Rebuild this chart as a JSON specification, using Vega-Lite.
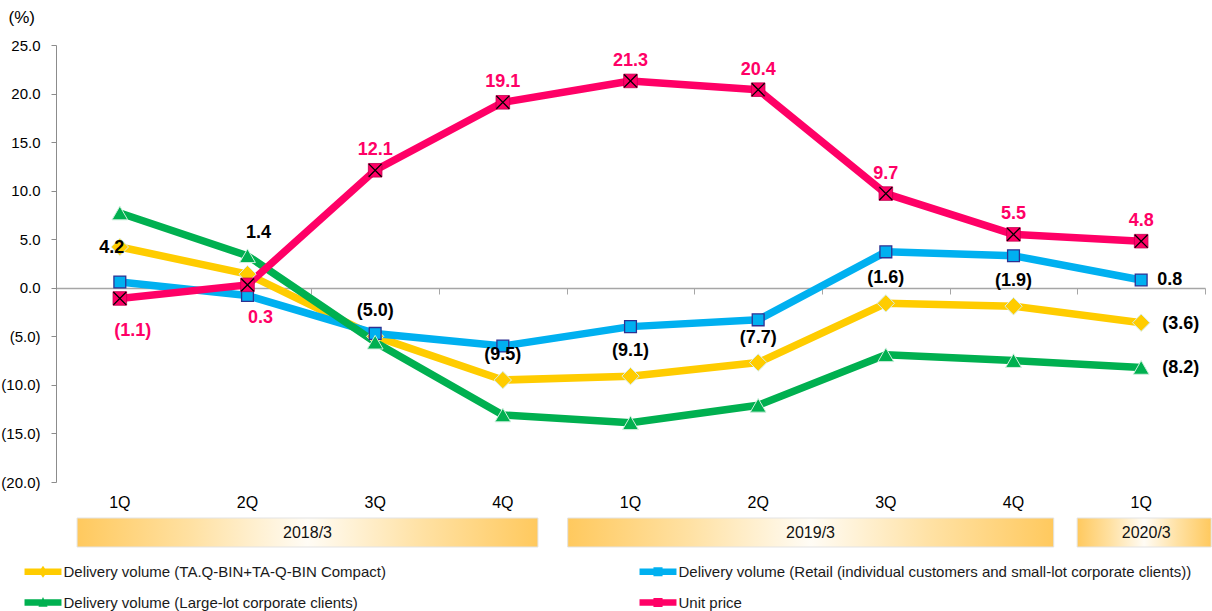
{
  "$schema": "https://vega.github.io/schema/vega-lite/v6.json",
  "padding": {"left": 0, "top": 8, "right": 0, "bottom": 0},
  "config": {
    "view": {"stroke": null},
    "font": "Liberation Sans",
    "text": {"font": "Liberation Sans"}
  },
  "datasets": {
    "rates": [
      {"q": "2018/3 1Q", "s": "Delivery volume (TA.Q-BIN+TA-Q-BIN Compact)", "v": 4.2},
      {"q": "2018/3 2Q", "s": "Delivery volume (TA.Q-BIN+TA-Q-BIN Compact)", "v": 1.4},
      {"q": "2018/3 3Q", "s": "Delivery volume (TA.Q-BIN+TA-Q-BIN Compact)", "v": -5.0},
      {"q": "2018/3 4Q", "s": "Delivery volume (TA.Q-BIN+TA-Q-BIN Compact)", "v": -9.5},
      {"q": "2019/3 1Q", "s": "Delivery volume (TA.Q-BIN+TA-Q-BIN Compact)", "v": -9.1},
      {"q": "2019/3 2Q", "s": "Delivery volume (TA.Q-BIN+TA-Q-BIN Compact)", "v": -7.7},
      {"q": "2019/3 3Q", "s": "Delivery volume (TA.Q-BIN+TA-Q-BIN Compact)", "v": -1.6},
      {"q": "2019/3 4Q", "s": "Delivery volume (TA.Q-BIN+TA-Q-BIN Compact)", "v": -1.9},
      {"q": "2020/3 1Q", "s": "Delivery volume (TA.Q-BIN+TA-Q-BIN Compact)", "v": -3.6},
      {"q": "2018/3 1Q", "s": "Delivery volume (Retail (individual customers and small-lot corporate clients))", "v": 0.6},
      {"q": "2018/3 2Q", "s": "Delivery volume (Retail (individual customers and small-lot corporate clients))", "v": -0.8},
      {"q": "2018/3 3Q", "s": "Delivery volume (Retail (individual customers and small-lot corporate clients))", "v": -4.7},
      {"q": "2018/3 4Q", "s": "Delivery volume (Retail (individual customers and small-lot corporate clients))", "v": -6.0},
      {"q": "2019/3 1Q", "s": "Delivery volume (Retail (individual customers and small-lot corporate clients))", "v": -4.0},
      {"q": "2019/3 2Q", "s": "Delivery volume (Retail (individual customers and small-lot corporate clients))", "v": -3.3},
      {"q": "2019/3 3Q", "s": "Delivery volume (Retail (individual customers and small-lot corporate clients))", "v": 3.7},
      {"q": "2019/3 4Q", "s": "Delivery volume (Retail (individual customers and small-lot corporate clients))", "v": 3.3},
      {"q": "2020/3 1Q", "s": "Delivery volume (Retail (individual customers and small-lot corporate clients))", "v": 0.8},
      {"q": "2018/3 1Q", "s": "Delivery volume (Large-lot corporate clients)", "v": 7.7},
      {"q": "2018/3 2Q", "s": "Delivery volume (Large-lot corporate clients)", "v": 3.3},
      {"q": "2018/3 3Q", "s": "Delivery volume (Large-lot corporate clients)", "v": -5.6},
      {"q": "2018/3 4Q", "s": "Delivery volume (Large-lot corporate clients)", "v": -13.1},
      {"q": "2019/3 1Q", "s": "Delivery volume (Large-lot corporate clients)", "v": -13.9},
      {"q": "2019/3 2Q", "s": "Delivery volume (Large-lot corporate clients)", "v": -12.1},
      {"q": "2019/3 3Q", "s": "Delivery volume (Large-lot corporate clients)", "v": -6.9},
      {"q": "2019/3 4Q", "s": "Delivery volume (Large-lot corporate clients)", "v": -7.5},
      {"q": "2020/3 1Q", "s": "Delivery volume (Large-lot corporate clients)", "v": -8.2},
      {"q": "2018/3 1Q", "s": "Unit price", "v": -1.1},
      {"q": "2018/3 2Q", "s": "Unit price", "v": 0.3},
      {"q": "2018/3 3Q", "s": "Unit price", "v": 12.1},
      {"q": "2018/3 4Q", "s": "Unit price", "v": 19.1},
      {"q": "2019/3 1Q", "s": "Unit price", "v": 21.3},
      {"q": "2019/3 2Q", "s": "Unit price", "v": 20.4},
      {"q": "2019/3 3Q", "s": "Unit price", "v": 9.7},
      {"q": "2019/3 4Q", "s": "Unit price", "v": 5.5},
      {"q": "2020/3 1Q", "s": "Unit price", "v": 4.8}
    ],
    "years": [
      {"fy": "2018/3", "start": "2018/3 1Q", "end": "2018/3 4Q"},
      {"fy": "2019/3", "start": "2019/3 1Q", "end": "2019/3 4Q"},
      {"fy": "2020/3", "start": "2020/3 1Q", "end": "2020/3 1Q"}
    ]
  },
  "bounds": "flush",
  "spacing": 36,
  "vconcat": [
    {
      "width": 1149,
      "height": 437,
      "data": {"name": "rates"},
      "transform": [
        {"calculate": "datum.v < 0 ? '(' + format(-datum.v, '.1f') + ')' : format(datum.v, '.1f')", "as": "lbl"}
      ],
      "encoding": {
        "x": {"field": "q", "type": "nominal", "axis": null,
          "scale": {"type": "band", "paddingInner": 0, "paddingOuter": 0,
            "domain": ["2018/3 1Q", "2018/3 2Q", "2018/3 3Q", "2018/3 4Q", "2019/3 1Q", "2019/3 2Q", "2019/3 3Q", "2019/3 4Q", "2020/3 1Q"]}},
        "y": {"field": "v", "type": "quantitative",
          "scale": {"domain": [-20, 25], "nice": false, "zero": false},
          "axis": {"title": "(%)", "titleAngle": 0, "titleAlign": "left", "titleBaseline": "middle", "titleX": -48, "titleY": -28, "titleFontSize": 17, "titleFontWeight": "normal", "titleColor": "#000000",
            "values": [-20, -15, -10, -5, 0, 5, 10, 15, 20, 25],
            "labelExpr": "datum.value < 0 ? '(' + format(-datum.value, '.1f') + ')' : format(datum.value, '.1f')",
            "labelFontSize": 15, "labelColor": "#000000", "labelPadding": 11, "tickSize": 5, "tickColor": "#8C8C8C", "domainColor": "#8C8C8C", "grid": false}}
      },
      "layer": [
        {
          "mark": {"type": "point", "filled": true, "opacity": 0},
          "encoding": {
            "x": {"field": "q", "type": "nominal",
              "scale": {"type": "band", "paddingInner": 0, "paddingOuter": 0,
                "domain": ["2018/3 1Q", "2018/3 2Q", "2018/3 3Q", "2018/3 4Q", "2019/3 1Q", "2019/3 2Q", "2019/3 3Q", "2019/3 4Q", "2020/3 1Q"]},
              "axis": {"orient": "top", "offset": -243, "labels": false, "title": null, "domainColor": "#A6A6A6", "domainWidth": 1.5, "tickColor": "#A6A6A6", "tickSize": -6, "tickBand": "extent", "grid": false}},
            "color": {"field": "s", "type": "nominal",
              "scale": {"domain": ["Delivery volume (TA.Q-BIN+TA-Q-BIN Compact)", "Delivery volume (Large-lot corporate clients)", "Delivery volume (Retail (individual customers and small-lot corporate clients))", "Unit price"],
                "range": ["#FFCC00", "#00B050", "#00B0F0", "#FF0066"]},
              "legend": {"title": null, "orient": "none", "legendX": -20.5, "legendY": 519, "columns": 2, "columnPadding": 253, "rowPadding": 15, "labelFontSize": 15, "labelColor": "#1A1A1A", "symbolSize": 196, "labelOffset": 13, "symbolOpacity": 1, "symbolStrokeWidth": 0, "labelLimit": 700}},
            "shape": {"field": "s", "type": "nominal",
              "scale": {"domain": ["Delivery volume (TA.Q-BIN+TA-Q-BIN Compact)", "Delivery volume (Large-lot corporate clients)", "Delivery volume (Retail (individual customers and small-lot corporate clients))", "Unit price"],
                "range": ["M-2.64,-0.46H2.64V0.46H-2.64Z M0,-0.85L0.6,0L0,0.85L-0.6,0Z", "M-2.64,-0.46H2.64V0.46H-2.64Z M0,-0.8L0.65,0.6H-0.65Z", "M-2.64,-0.46H2.64V0.46H-2.64Z M-0.65,-0.65H0.65V0.65H-0.65Z", "M-2.64,-0.46H2.64V0.46H-2.64Z M-0.65,-0.65H0.65V0.65H-0.65Z"]},
              "legend": {"title": null, "orient": "none", "legendX": -20.5, "legendY": 519, "columns": 2, "columnPadding": 253, "rowPadding": 15, "labelFontSize": 15, "labelColor": "#1A1A1A", "symbolSize": 196, "labelOffset": 13, "symbolOpacity": 1, "symbolStrokeWidth": 0, "labelLimit": 700}}
          }
        },
        {
          "mark": {"type": "line", "strokeWidth": 7.5, "strokeJoin": "round"},
          "encoding": {
            "x": {"field": "q", "type": "nominal",
              "scale": {"type": "band", "paddingInner": 0, "paddingOuter": 0,
                "domain": ["2018/3 1Q", "2018/3 2Q", "2018/3 3Q", "2018/3 4Q", "2019/3 1Q", "2019/3 2Q", "2019/3 3Q", "2019/3 4Q", "2020/3 1Q"]},
              "axis": {"orient": "bottom", "title": null, "domain": false, "ticks": false, "labelAngle": 0, "labelFontSize": 16, "labelColor": "#000000", "labelPadding": 12, "labelExpr": "split(datum.value, ' ')[1]", "grid": false}},
            "stroke": {"field": "s", "type": "nominal", "legend": null,
              "scale": {"domain": ["Delivery volume (TA.Q-BIN+TA-Q-BIN Compact)", "Delivery volume (Retail (individual customers and small-lot corporate clients))", "Delivery volume (Large-lot corporate clients)", "Unit price"],
                "range": ["#FFCC00", "#00B0F0", "#00B050", "#FF0066"]}}
          }
        },
        {
          "transform": [{"filter": "datum.s == 'Delivery volume (TA.Q-BIN+TA-Q-BIN Compact)'"}],
          "mark": {"type": "point", "shape": "diamond", "filled": true, "opacity": 1, "fill": "#FFCC00", "stroke": "#D5EFEF", "strokeWidth": 1, "size": 300}
        },
        {
          "transform": [{"filter": "datum.s == 'Delivery volume (Retail (individual customers and small-lot corporate clients))'"}],
          "mark": {"type": "point", "shape": "square", "filled": true, "opacity": 1, "fill": "#00B0F0", "stroke": "#2E3192", "strokeWidth": 1.3, "size": 140}
        },
        {
          "transform": [{"filter": "datum.s == 'Delivery volume (Large-lot corporate clients)'"}],
          "mark": {"type": "point", "shape": "triangle-up", "filled": true, "opacity": 1, "fill": "#00B050", "stroke": "#CFEFDD", "strokeWidth": 1, "size": 250}
        },
        {
          "transform": [{"filter": "datum.s == 'Unit price'"}],
          "mark": {"type": "point", "shape": "square", "filled": true, "opacity": 1, "fill": "#FF0066", "stroke": "#C0004E", "strokeWidth": 0.8, "size": 185}
        },
        {
          "transform": [{"filter": "datum.s == 'Unit price'"}],
          "mark": {"type": "point", "shape": "M-1,-1L1,1M-1,1L1,-1", "filled": false, "opacity": 1, "stroke": "#000000", "strokeWidth": 1.3, "size": 165}
        },
        {
          "transform": [{"filter": "datum.s == 'Delivery volume (TA.Q-BIN+TA-Q-BIN Compact)' && datum.q == '2018/3 1Q'"}],
          "mark": {"type": "text", "fontSize": 18, "fontWeight": "bold", "color": "#000000", "dx": -8, "dy": 1},
          "encoding": {"text": {"field": "lbl"}}
        },
        {
          "transform": [{"filter": "datum.s == 'Delivery volume (TA.Q-BIN+TA-Q-BIN Compact)' && datum.q == '2018/3 2Q'"}],
          "mark": {"type": "text", "fontSize": 18, "fontWeight": "bold", "color": "#000000", "dx": 11, "dy": -41},
          "encoding": {"text": {"field": "lbl"}}
        },
        {
          "transform": [{"filter": "datum.s == 'Delivery volume (TA.Q-BIN+TA-Q-BIN Compact)' && datum.q != '2018/3 1Q' && datum.q != '2018/3 2Q' && datum.q != '2020/3 1Q'"}],
          "mark": {"type": "text", "fontSize": 18, "fontWeight": "bold", "color": "#000000", "dy": -25},
          "encoding": {"text": {"field": "lbl"}}
        },
        {
          "transform": [{"filter": "datum.q == '2020/3 1Q' && (datum.s == 'Delivery volume (TA.Q-BIN+TA-Q-BIN Compact)' || datum.s == 'Delivery volume (Large-lot corporate clients)')"}],
          "mark": {"type": "text", "fontSize": 18, "fontWeight": "bold", "color": "#000000", "align": "left", "dx": 21, "dy": 1},
          "encoding": {"text": {"field": "lbl"}}
        },
        {
          "transform": [{"filter": "datum.q == '2020/3 1Q' && datum.s == 'Delivery volume (Retail (individual customers and small-lot corporate clients))'"}],
          "mark": {"type": "text", "fontSize": 18, "fontWeight": "bold", "color": "#000000", "align": "left", "dx": 16},
          "encoding": {"text": {"field": "lbl"}}
        },
        {
          "transform": [{"filter": "datum.s == 'Unit price' && (datum.q == '2018/3 1Q' || datum.q == '2018/3 2Q')"}],
          "mark": {"type": "text", "fontSize": 18, "fontWeight": "bold", "color": "#FF0066", "dx": 13, "dy": 33},
          "encoding": {"text": {"field": "lbl"}}
        },
        {
          "transform": [{"filter": "datum.s == 'Unit price' && datum.q != '2018/3 1Q' && datum.q != '2018/3 2Q'"}],
          "mark": {"type": "text", "fontSize": 18, "fontWeight": "bold", "color": "#FF0066", "dy": -20},
          "encoding": {"text": {"field": "lbl"}}
        }
      ],
      "resolve": {"axis": {"x": "independent"}}
    },
    {
      "width": 1149,
      "height": 29,
      "data": {"name": "years"},
      "encoding": {
        "x": {"field": "start", "type": "nominal", "axis": null,
          "scale": {"type": "band", "paddingInner": 0, "paddingOuter": 0,
            "domain": ["2018/3 1Q", "2018/3 2Q", "2018/3 3Q", "2018/3 4Q", "2019/3 1Q", "2019/3 2Q", "2019/3 3Q", "2019/3 4Q", "2020/3 1Q"]}}
      },
      "layer": [
        {
          "transform": [{"filter": "datum.fy == '2018/3'"}],
          "mark": {"type": "rect", "stroke": "#E3E3E3", "strokeWidth": 1,
            "fill": {"gradient": "linear", "x1": 0, "y1": 0, "x2": 1, "y2": 0,
              "stops": [{"offset": 0, "color": "#FFC95E"}, {"offset": 0.25, "color": "#FFE1A3"}, {"offset": 0.5, "color": "#FFFCF5"}, {"offset": 0.75, "color": "#FFE1A3"}, {"offset": 1, "color": "#FFC95E"}]}},
          "encoding": {
            "x": {"field": "start", "type": "nominal", "bandPosition": 0.165},
            "x2": {"field": "end", "bandPosition": 0.775}
          }
        },
        {
          "transform": [{"filter": "datum.fy == '2019/3'"}],
          "mark": {"type": "rect", "stroke": "#E3E3E3", "strokeWidth": 1,
            "fill": {"gradient": "linear", "x1": 0, "y1": 0, "x2": 1, "y2": 0,
              "stops": [{"offset": 0, "color": "#FFC95E"}, {"offset": 0.25, "color": "#FFE1A3"}, {"offset": 0.5, "color": "#FFFCF5"}, {"offset": 0.75, "color": "#FFE1A3"}, {"offset": 1, "color": "#FFC95E"}]}},
          "encoding": {
            "x": {"field": "start", "type": "nominal", "bandPosition": 0.008},
            "x2": {"field": "end", "bandPosition": 0.815}
          }
        },
        {
          "transform": [{"filter": "datum.fy == '2020/3'"}],
          "mark": {"type": "rect", "stroke": "#E3E3E3", "strokeWidth": 1, "width": {"band": 1.05}, "xOffset": 3,
            "fill": {"gradient": "linear", "x1": 0, "y1": 0, "x2": 1, "y2": 0,
              "stops": [{"offset": 0, "color": "#FFC95E"}, {"offset": 0.25, "color": "#FFE1A3"}, {"offset": 0.5, "color": "#FFFCF5"}, {"offset": 0.75, "color": "#FFE1A3"}, {"offset": 1, "color": "#FFC95E"}]}},
          "encoding": {
            "x": {"field": "start", "type": "nominal"}
          }
        },
        {
          "transform": [{"filter": "datum.fy == '2018/3'"}],
          "mark": {"type": "text", "fontSize": 16, "color": "#111111"},
          "encoding": {"x": {"field": "start", "type": "nominal", "bandPosition": 1.97}, "text": {"field": "fy"}}
        },
        {
          "transform": [{"filter": "datum.fy == '2019/3'"}],
          "mark": {"type": "text", "fontSize": 16, "color": "#111111"},
          "encoding": {"x": {"field": "start", "type": "nominal", "bandPosition": 1.91}, "text": {"field": "fy"}}
        },
        {
          "transform": [{"filter": "datum.fy == '2020/3'"}],
          "mark": {"type": "text", "fontSize": 16, "color": "#111111"},
          "encoding": {"x": {"field": "start", "type": "nominal", "bandPosition": 0.54}, "text": {"field": "fy"}}
        }
      ]
    }
  ]
}
